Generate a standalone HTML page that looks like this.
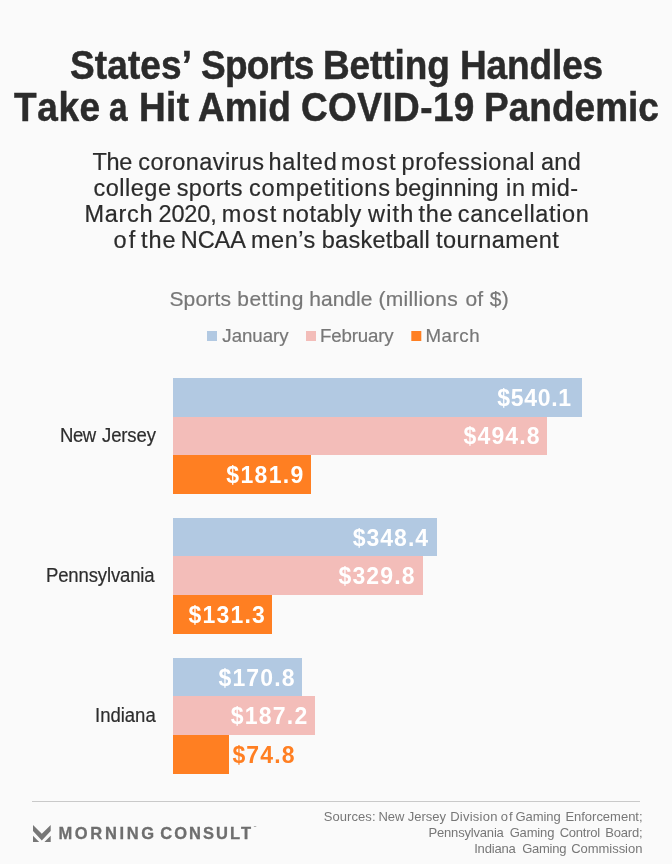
<!DOCTYPE html>
<html lang="en">
<head>
<meta charset="utf-8">
<title>States’ Sports Betting Handles Take a Hit Amid COVID-19 Pandemic</title>
<style>
html,body{margin:0;padding:0;background:#fafafa;}
body{width:672px;height:864px;overflow:hidden;position:relative;font-family:"Liberation Sans",Arial,sans-serif;}
svg{position:absolute;left:0;top:0;}
.ln{margin:0;padding:0;font-weight:inherit;font-size:inherit;}
.ln span{position:absolute;white-space:nowrap;line-height:1;transform-origin:0 0;}
.title span{font-size:40.2px;font-weight:700;color:#2b2b2b;-webkit-text-stroke:0.5px #2b2b2b;font-kerning:none;}
.sub span{font-size:23.5px;font-weight:400;color:#2b2b2b;-webkit-text-stroke:0.2px #2b2b2b;}
.axis span{font-size:21px;font-weight:400;color:#777777;-webkit-text-stroke:0.2px #777777;}
.leg span{font-size:18.7px;font-weight:400;color:#777777;-webkit-text-stroke:0.2px #777777;}
.cat span{font-size:19.5px;font-weight:400;color:#2d2d2d;-webkit-text-stroke:0.2px #2d2d2d;}
.val span{font-size:23px;font-weight:700;color:#ffffff;font-kerning:none;}
.logo span{font-size:16.5px;font-weight:700;color:#6e6e6e;-webkit-text-stroke:0.3px #6e6e6e;}
.tmk span{font-size:3px;font-weight:700;color:#7a7a7a;}
.src span{font-size:13px;font-weight:400;color:#777777;}
</style>
</head>
<body>
<svg width="672" height="864" viewBox="0 0 672 864" aria-hidden="true">
<rect x="173.00" y="378.00" width="409.00" height="39.00" fill="#b2c9e2"/>
<rect x="173.00" y="417.00" width="374.00" height="38.00" fill="#f3bdb9"/>
<rect x="173.00" y="455.00" width="138.00" height="39.00" fill="#ff7f22"/>
<rect x="173.00" y="518.00" width="264.00" height="38.00" fill="#b2c9e2"/>
<rect x="173.00" y="556.00" width="250.00" height="39.00" fill="#f3bdb9"/>
<rect x="173.00" y="595.00" width="99.00" height="39.00" fill="#ff7f22"/>
<rect x="173.00" y="658.00" width="129.00" height="38.00" fill="#b2c9e2"/>
<rect x="173.00" y="696.00" width="142.00" height="39.00" fill="#f3bdb9"/>
<rect x="173.00" y="735.00" width="56.00" height="39.00" fill="#ff7f22"/>
<rect x="207" y="331" width="10" height="10" fill="#b2c9e2"/>
<rect x="306" y="331" width="10" height="10" fill="#f3bdb9"/>
<rect x="411.3" y="331" width="10" height="10" fill="#ff7f22"/>
<rect x="32" y="801" width="608" height="1" fill="#c9c9c9"/>
<path d="M33 825 L41.8 833.8 L50.7 825 L50.7 831 L41.8 840.4 L33 831 Z M33 835.8 L39.2 842 L33 842 Z M50.7 835.8 L44.4 842 L50.7 842 Z" fill="#777777"/>
</svg>
<h1 class="ln title">
<span id="h1_0" style="left:69.78px;top:46.00px;letter-spacing:0.134px;transform:scaleX(0.92);">States’</span> <span id="h1_1" style="left:200.82px;top:46.00px;letter-spacing:-0.796px;transform:scaleX(0.92);">Sports</span> <span id="h1_2" style="left:322.85px;top:46.00px;letter-spacing:-0.106px;transform:scaleX(0.92);">Betting</span> <span id="h1_3" style="left:459.95px;top:46.00px;letter-spacing:-0.117px;transform:scaleX(0.92);">Handles</span>
<span id="h2_0" style="left:13.51px;top:88.00px;letter-spacing:0.678px;transform:scaleX(0.92);">Take</span> <span id="h2_1" style="left:109.02px;top:88.00px;transform:scaleX(0.8293);">a</span> <span id="h2_2" style="left:138.55px;top:88.00px;letter-spacing:0.442px;transform:scaleX(0.92);">Hit</span> <span id="h2_3" style="left:197.88px;top:88.00px;letter-spacing:0.103px;transform:scaleX(0.92);">Amid</span> <span id="h2_4" style="left:300.60px;top:88.00px;letter-spacing:0.450px;transform:scaleX(0.92);">COVID-19</span> <span id="h2_5" style="left:483.55px;top:88.00px;letter-spacing:0.039px;transform:scaleX(0.92);">Pandemic</span>
</h1>
<p class="ln sub">
<span id="s1_0" style="left:92.47px;top:151.00px;letter-spacing:-0.339px;">The</span> <span id="s1_1" style="left:138.35px;top:151.00px;letter-spacing:0.424px;">coronavirus</span> <span id="s1_2" style="left:268.43px;top:151.00px;letter-spacing:0.882px;">halted</span> <span id="s1_3" style="left:340.96px;top:151.00px;letter-spacing:1.184px;">most</span> <span id="s1_4" style="left:401.60px;top:151.00px;letter-spacing:0.560px;">professional</span> <span id="s1_5" style="left:540.98px;top:151.00px;letter-spacing:0.323px;">and</span>
<span id="s2_0" style="left:93.38px;top:177.00px;letter-spacing:0.532px;">college</span> <span id="s2_1" style="left:176.69px;top:177.00px;letter-spacing:0.366px;">sports</span> <span id="s2_2" style="left:249.03px;top:177.00px;letter-spacing:0.824px;">competitions</span> <span id="s2_3" style="left:395.00px;top:177.00px;letter-spacing:0.202px;">beginning</span> <span id="s2_4" style="left:505.97px;top:177.00px;letter-spacing:0.893px;">in</span> <span id="s2_5" style="left:530.96px;top:177.00px;letter-spacing:0.489px;">mid-</span>
<span id="s3_0" style="left:84.55px;top:203.00px;letter-spacing:0.688px;">March</span> <span id="s3_1" style="left:158.41px;top:203.00px;letter-spacing:-0.092px;">2020,</span> <span id="s3_2" style="left:221.74px;top:203.00px;letter-spacing:1.207px;">most</span> <span id="s3_3" style="left:282.28px;top:203.00px;letter-spacing:0.528px;">notably</span> <span id="s3_4" style="left:367.98px;top:203.00px;letter-spacing:1.213px;">with</span> <span id="s3_5" style="left:418.40px;top:203.00px;letter-spacing:0.776px;">the</span> <span id="s3_6" style="left:457.87px;top:203.00px;letter-spacing:0.617px;">cancellation</span>
<span id="s4_0" style="left:113.46px;top:229.00px;letter-spacing:2.178px;">of</span> <span id="s4_1" style="left:141.02px;top:229.00px;letter-spacing:0.934px;">the</span> <span id="s4_2" style="left:180.74px;top:229.00px;letter-spacing:-0.034px;">NCAA</span> <span id="s4_3" style="left:250.96px;top:229.00px;letter-spacing:0.532px;">men’s</span> <span id="s4_4" style="left:321.78px;top:229.00px;letter-spacing:0.243px;">basketball</span> <span id="s4_5" style="left:436.09px;top:229.00px;letter-spacing:0.438px;">tournament</span>
</p>
<div class="ln axis">
<span id="ax_0" style="left:169.39px;top:288.00px;letter-spacing:0.184px;">Sports</span> <span id="ax_1" style="left:237.19px;top:288.00px;letter-spacing:0.534px;">betting</span> <span id="ax_2" style="left:309.33px;top:288.00px;letter-spacing:-0.001px;">handle</span> <span id="ax_3" style="left:378.46px;top:288.00px;letter-spacing:0.290px;">(millions</span> <span id="ax_4" style="left:465.54px;top:288.00px;letter-spacing:0.158px;">of</span> <span id="ax_5" style="left:489.65px;top:288.00px;letter-spacing:0.372px;">$)</span>
</div>
<div class="ln leg">
<span id="l1_0" style="left:222.32px;top:327.00px;letter-spacing:-0.028px;">January</span>
</div>
<div class="ln leg">
<span id="l2_0" style="left:320.02px;top:327.00px;letter-spacing:-0.163px;">February</span>
</div>
<div class="ln leg">
<span id="l3_0" style="left:425.47px;top:327.00px;letter-spacing:0.538px;">March</span>
</div>
<div class="ln cat">
<span id="c1_0" style="left:59.84px;top:426.00px;letter-spacing:-0.506px;transform:scaleX(0.95);">New</span> <span id="c1_1" style="left:101.74px;top:426.00px;letter-spacing:-0.139px;transform:scaleX(0.95);">Jersey</span>
</div>
<div class="ln cat">
<span id="c2_0" style="left:45.78px;top:566.00px;letter-spacing:-0.153px;transform:scaleX(0.95);">Pennsylvania</span>
</div>
<div class="ln cat">
<span id="c3_0" style="left:94.77px;top:706.00px;letter-spacing:-0.015px;transform:scaleX(0.95);">Indiana</span>
</div>
<div class="ln val">
<span id="v0_0" style="left:497.23px;top:387.01px;letter-spacing:0.690px;">$540.1</span>
</div>
<div class="ln val">
<span id="v1_0" style="left:463.49px;top:425.00px;letter-spacing:1.155px;">$494.8</span>
</div>
<div class="ln val">
<span id="v2_0" style="left:226.35px;top:464.01px;letter-spacing:1.332px;">$181.9</span>
</div>
<div class="ln val">
<span id="v3_0" style="left:352.71px;top:527.01px;letter-spacing:1.007px;">$348.4</span>
</div>
<div class="ln val">
<span id="v4_0" style="left:338.49px;top:565.01px;letter-spacing:1.151px;">$329.8</span>
</div>
<div class="ln val">
<span id="v5_0" style="left:188.49px;top:604.01px;letter-spacing:1.202px;">$131.3</span>
</div>
<div class="ln val">
<span id="v6_0" style="left:218.49px;top:667.01px;letter-spacing:1.151px;">$170.8</span>
</div>
<div class="ln val">
<span id="v7_0" style="left:230.66px;top:705.01px;letter-spacing:1.261px;">$187.2</span>
</div>
<div class="ln val">
<span id="v8_0" style="left:232.43px;top:744.01px;letter-spacing:1.160px;color:#ff7f22;">$74.8</span>
</div>
<div class="ln logo">
<span id="mc_0" style="left:58.46px;top:825.01px;letter-spacing:2.644px;">MORNING</span> <span id="mc_1" style="left:160.33px;top:825.01px;letter-spacing:2.022px;">CONSULT</span>
</div>
<div class="ln tmk">
<span id="tm_0" style="left:253.50px;top:826.01px;">™</span>
</div>
<p class="ln src">
<span id="f1_0" style="left:323.64px;top:810.00px;letter-spacing:0.091px;">Sources:</span> <span id="f1_1" style="left:378.58px;top:810.00px;letter-spacing:-0.110px;">New</span> <span id="f1_2" style="left:407.82px;top:810.00px;letter-spacing:-0.003px;">Jersey</span> <span id="f1_3" style="left:450.18px;top:810.00px;letter-spacing:0.248px;">Division</span> <span id="f1_4" style="left:500.68px;top:810.00px;letter-spacing:1.186px;">of</span> <span id="f1_5" style="left:515.43px;top:810.00px;letter-spacing:-0.067px;">Gaming</span> <span id="f1_6" style="left:565.38px;top:810.00px;letter-spacing:-0.012px;">Enforcement;</span>
<span id="f2_0" style="left:428.52px;top:826.01px;letter-spacing:-0.183px;">Pennsylvania</span> <span id="f2_1" style="left:509.67px;top:826.01px;letter-spacing:-0.151px;">Gaming</span> <span id="f2_2" style="left:559.65px;top:826.01px;letter-spacing:-0.225px;">Control</span> <span id="f2_3" style="left:605.33px;top:826.01px;letter-spacing:-0.198px;">Board;</span>
<span id="f3_0" style="left:474.15px;top:842.01px;letter-spacing:-0.170px;">Indiana</span> <span id="f3_1" style="left:522.13px;top:842.01px;letter-spacing:-0.233px;">Gaming</span> <span id="f3_2" style="left:571.13px;top:842.01px;letter-spacing:-0.024px;">Commission</span>
</p>
</body>
</html>
